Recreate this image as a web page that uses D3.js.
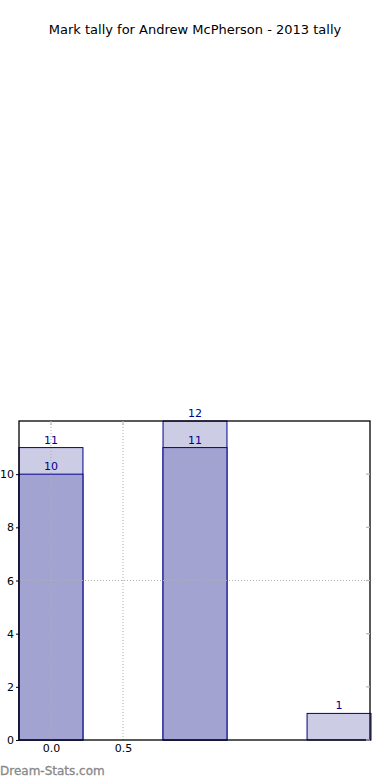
<!DOCTYPE html>
<html><head><meta charset="utf-8">
<script src="https://cdn.jsdelivr.net/npm/d3@7/dist/d3.min.js"></script>
<style>body{margin:0;background:#fff}svg{display:block}text{font-family:"DejaVu Sans",sans-serif}</style>
</head><body>
<script>
const title = "Mark tally for Andrew McPherson - 2013 tally";
const positions = [0, 1, 2];
const totalValues = [11, 12, 1];
const innerValues = [10, 11, 0];
const yTicks = [0, 2, 4, 6, 8, 10];
const xTicks = [0.0, 0.5];
const yGrid = [6];
const watermark = "Dream-Stats.com";

const W = 390, H = 780;
const m = {l: 19, r: 20, t: 421, b: 40};
const svg = d3.select("body").append("svg").attr("width", W).attr("height", H);

svg.append("text").attr("x", 195).attr("y", 34).attr("text-anchor", "middle")
  .attr("font-size", 13).attr("fill", "#000").text(title);

const x = d3.scaleLinear().domain([-0.222, 2.215]).range([m.l, W - m.r]);
const y = d3.scaleLinear().domain([0, 12]).range([H - m.b, m.t]);
const bw = 0.444;

const g = svg.append("g");
// light (total) bars
g.selectAll(".tot").data(positions).join("rect")
  .attr("x", (d) => x(d - bw / 2)).attr("width", (d) => x(d + bw / 2) - x(d - bw / 2))
  .attr("y", (d, i) => y(totalValues[i])).attr("height", (d, i) => y(0) - y(totalValues[i]))
  .attr("fill", "#ccccE5").attr("stroke", "#00008b").attr("stroke-width", 1);
// dark (inner) bars
g.selectAll(".inn").data(positions.filter((d, i) => innerValues[i] > 0)).join("rect")
  .attr("x", (d) => x(d - bw / 2)).attr("width", (d) => x(d + bw / 2) - x(d - bw / 2))
  .attr("y", (d) => y(innerValues[positions.indexOf(d)])).attr("height", (d) => y(0) - y(innerValues[positions.indexOf(d)]))
  .attr("fill", "#a3a3d1").attr("stroke", "#00008b").attr("stroke-width", 1);

// grid
xTicks.forEach(t => g.append("line").attr("x1", x(t)).attr("x2", x(t)).attr("y1", y(12)).attr("y2", y(0))
  .attr("stroke", "#b0b0b0").attr("stroke-dasharray", "1,2"));
yGrid.forEach(t => g.append("line").attr("x1", x.range()[0]).attr("x2", x.range()[1]).attr("y1", y(t)).attr("y2", y(t))
  .attr("stroke", "#b0b0b0").attr("stroke-dasharray", "1,2"));

// labels
positions.forEach((p, i) => {
  g.append("text").attr("x", x(p)).attr("y", y(totalValues[i]) - 4).attr("text-anchor", "middle")
    .attr("font-size", 11).attr("fill", "#00008b").text(totalValues[i]);
  if (innerValues[i] > 0)
    g.append("text").attr("x", x(p)).attr("y", y(innerValues[i]) - 4).attr("text-anchor", "middle")
      .attr("font-size", 11).attr("fill", "#00008b").text(innerValues[i]);
});

// frame
svg.append("rect").attr("x", m.l).attr("y", m.t).attr("width", W - m.r - m.l).attr("height", H - m.b - m.t)
  .attr("fill", "none").attr("stroke", "#000").attr("stroke-width", 1.3);

// axes
const yAxis = svg.append("g").attr("transform", `translate(${m.l},0)`)
  .call(d3.axisLeft(y).tickValues(yTicks).tickFormat(d3.format("d")).tickSize(3).tickPadding(2));
yAxis.select(".domain").remove();
yAxis.selectAll("text").attr("font-size", 11).attr("font-family", "DejaVu Sans").attr("fill", "#000");

const xAxis = svg.append("g").attr("transform", `translate(0,${H - m.b})`)
  .call(d3.axisBottom(x).tickValues(xTicks).tickFormat(d3.format(".1f")).tickSize(0).tickPadding(4));
xAxis.select(".domain").remove();
xAxis.selectAll("text").attr("font-size", 11).attr("font-family", "DejaVu Sans").attr("fill", "#000");

// right inner gray ticks
yTicks.forEach(t => svg.append("line").attr("x1", W - m.r - 4).attr("x2", W - m.r).attr("y1", y(t)).attr("y2", y(t))
  .attr("stroke", "#bbb").attr("stroke-width", 1.3));
// top inner gray ticks
xTicks.forEach(t => svg.append("line").attr("x1", x(t)).attr("x2", x(t)).attr("y1", m.t).attr("y2", m.t + 4)
  .attr("stroke", "#bbb").attr("stroke-width", 1.3));

svg.append("text").attr("x", 0).attr("y", 775).attr("font-size", 12)
  .attr("fill", "#888").attr("stroke", "#888").attr("stroke-width", 0.3).text(watermark);
</script>
</body></html>
